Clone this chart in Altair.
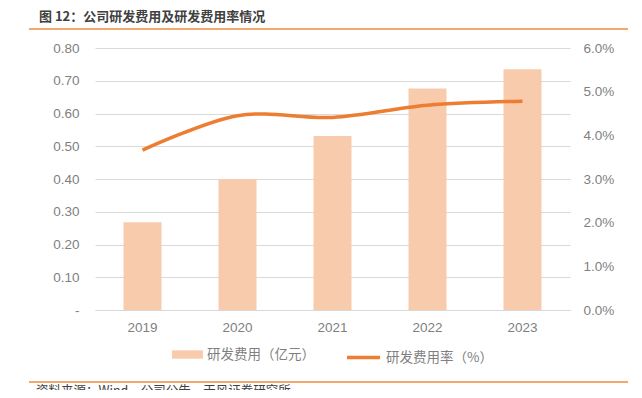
import altair as alt
import pandas as pd

years = ["2019", "2020", "2021", "2022", "2023"]
rd_expense = [0.268, 0.400, 0.531, 0.676, 0.735]      # 亿元
rd_ratio_pct = [3.66, 4.45, 4.41, 4.69, 4.78]          # %

bar_name = "研发费用（亿元）"
line_name = "研发费用率（%）"
title_text = "图 12：公司研发费用及研发费用率情况"
source_text = "资料来源：Wind，公司公告，天风证券研究所"
left_ticks = [0, 0.1, 0.2, 0.3, 0.4, 0.5, 0.6, 0.7, 0.8]
right_ticks = [0, 0.01, 0.02, 0.03, 0.04, 0.05, 0.06]

df = pd.DataFrame({
    "year": years,
    "expense": rd_expense,
    "ratio": [v / 100 for v in rd_ratio_pct],
    "s1": [bar_name] * len(years),
    "s2": [line_name] * len(years),
})

AX_FONT = "Liberation Sans"
CJK = "Noto Sans CJK SC"
GRAY = "#7F7F7F"

x_enc = alt.X("year:N", sort=years,
              scale=alt.Scale(paddingInner=0.6, paddingOuter=0.3),
              axis=alt.Axis(title=None, labelAngle=0, ticks=False, domain=True,
                            domainColor="#D9D9D9", labelFont=AX_FONT, labelFontSize=13.5,
                            labelColor=GRAY, labelPadding=10, grid=False))

bars = alt.Chart(df).mark_bar(color="#F8CBAD").encode(
    x=x_enc,
    y=alt.Y("expense:Q", scale=alt.Scale(domain=[0, 0.8], nice=False),
            axis=alt.Axis(title=None, values=left_ticks, grid=True, gridColor="#D9D9D9",
                          gridWidth=1, ticks=False, domain=False,
                          labelExpr="datum.value == 0 ? '-' : format(datum.value, '.2f')",
                          labelFont=AX_FONT, labelFontSize=13.5, labelColor=GRAY,
                          labelPadding=16)),
    color=alt.Color("s1:N", scale=alt.Scale(domain=[bar_name], range=["#F8CBAD"]),
                    legend=alt.Legend(title=None, orient="none", legendX=77, legendY=291,
                                      symbolType="M-1,-0.27H1V0.27H-1Z", symbolSize=961,
                                      symbolStrokeWidth=0, labelOffset=4, padding=0,
                                      labelFont=CJK, labelFontSize=13.5, labelColor=GRAY)),
)

line = alt.Chart(df).mark_line(strokeWidth=3.5, interpolate="cardinal").encode(
    x=alt.X("year:N", sort=years),
    y=alt.Y("ratio:Q", scale=alt.Scale(domain=[0, 0.06], nice=False),
            axis=alt.Axis(title=None, orient="right", values=right_ticks, format=".1%",
                          grid=False, ticks=False, domain=False, labelFont=AX_FONT,
                          labelFontSize=13.5, labelColor=GRAY, labelPadding=13)),
    stroke=alt.Stroke("s2:N", scale=alt.Scale(domain=[line_name], range=["#ED7D31"]),
                      legend=alt.Legend(title=None, orient="none", legendX=250, legendY=291,
                                        symbolType="stroke", symbolSize=1089,
                                        symbolStrokeWidth=3.5, labelOffset=4, padding=0,
                                        labelFont=CJK, labelFontSize=13.5, labelColor=GRAY)),
)

ann = pd.DataFrame({"title": [title_text], "source": [source_text]})

title_mark = alt.Chart(ann).mark_text(
    align="left", baseline="middle", font=CJK, fontSize=13, fontWeight="bold", color="#404040"
).encode(text="title:N", x=alt.value(-56), y=alt.value(-31))

top_rule = alt.Chart(ann).mark_rule(color="#F4A86C", strokeWidth=2).encode(
    x=alt.value(-66), x2=alt.value(533), y=alt.value(-19))

bottom_rule = alt.Chart(ann).mark_rule(color="#F4A86C", strokeWidth=2).encode(
    x=alt.value(-66), x2=alt.value(533), y=alt.value(334))

source_mark = alt.Chart(ann).mark_text(
    align="left", baseline="middle", font=CJK, fontSize=12.5, color="#404040"
).encode(text="source:N", x=alt.value(-59), y=alt.value(343))

chart = alt.layer(bars, line, title_mark, top_rule, bottom_rule, source_mark).resolve_scale(
    y="independent", color="independent", stroke="independent"
).properties(
    width=475, height=262,
    padding={"left": 87, "top": 40, "right": 64, "bottom": 80},
    autosize=alt.AutoSizeParams(type="none"),
).configure_view(stroke=None)

chart.save("out.html", embed_options={"renderer": "svg", "actions": False})
